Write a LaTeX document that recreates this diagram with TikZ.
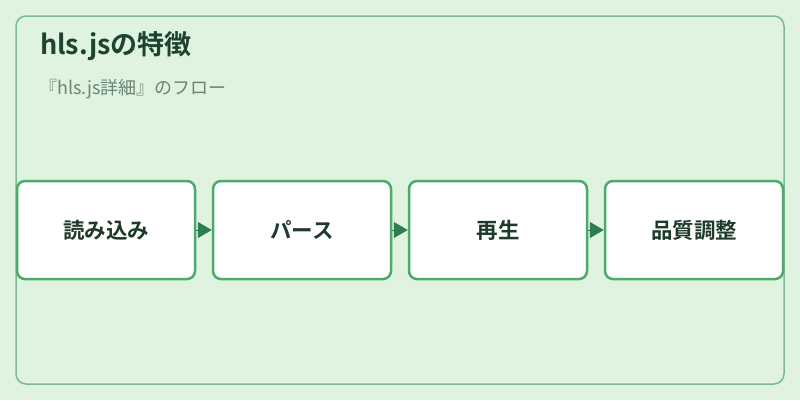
\documentclass[tikz,border=0pt]{standalone}
\usepackage{fontspec}
\setmainfont{Noto Sans CJK JP}[BoldFont={Noto Sans CJK JP Bold}]
\usetikzlibrary{arrows.meta}

\definecolor{bgcol}{HTML}{E0F2E0}
\definecolor{framecol}{HTML}{7DBB8F}
\definecolor{boxcol}{HTML}{4CAA6A}
\definecolor{arrowcol}{HTML}{2E7D4F}
\definecolor{titlecol}{HTML}{1E4430}
\definecolor{subcol}{HTML}{6A8674}
\definecolor{textcol}{HTML}{1F3A2B}

\tikzstyle{frame} = [draw=framecol,line width=1.5pt,rounded corners=10pt]
\tikzstyle{stage} = [draw=boxcol,fill=white,line width=2.5pt,rounded corners=8pt,minimum width=178pt,minimum height=98pt,inner sep=0pt,text=textcol,font=\fontsize{21.5}{26}\selectfont\bfseries]
\tikzstyle{flow} = [arrowcol,line width=1pt,-{Triangle[length=14pt,width=16pt]}]

\begin{document}
\begin{tikzpicture}[x=1pt,y=-1pt]
	\fill[bgcol] (0,0) rectangle (800,400);
	\useasboundingbox (0,0) rectangle (800,400);
	\draw[frame] (16,16) rectangle (784,384);
	
	\node[anchor=west,inner sep=0pt,text=titlecol,font=\fontsize{27}{32}\selectfont\bfseries] (title) at (40,46) {hls.jsの特徴};
	\node[anchor=west,inner sep=0pt,text=subcol,font=\fontsize{18}{21}\selectfont] (sub) at (39,89) {『hls.js詳細』のフロー};
	
	\node[stage] (s1) at (106,230) {読み込み};
	\node[stage] (s2) at (302,230) {パース};
	\node[stage] (s3) at (498,230) {再生};
	\node[stage] (s4) at (694,230) {品質調整};
	
	\draw[flow] (s1) -- (s2);
	\draw[flow] (s2) -- (s3);
	\draw[flow] (s3) -- (s4);
\end{tikzpicture}
\end{document}
